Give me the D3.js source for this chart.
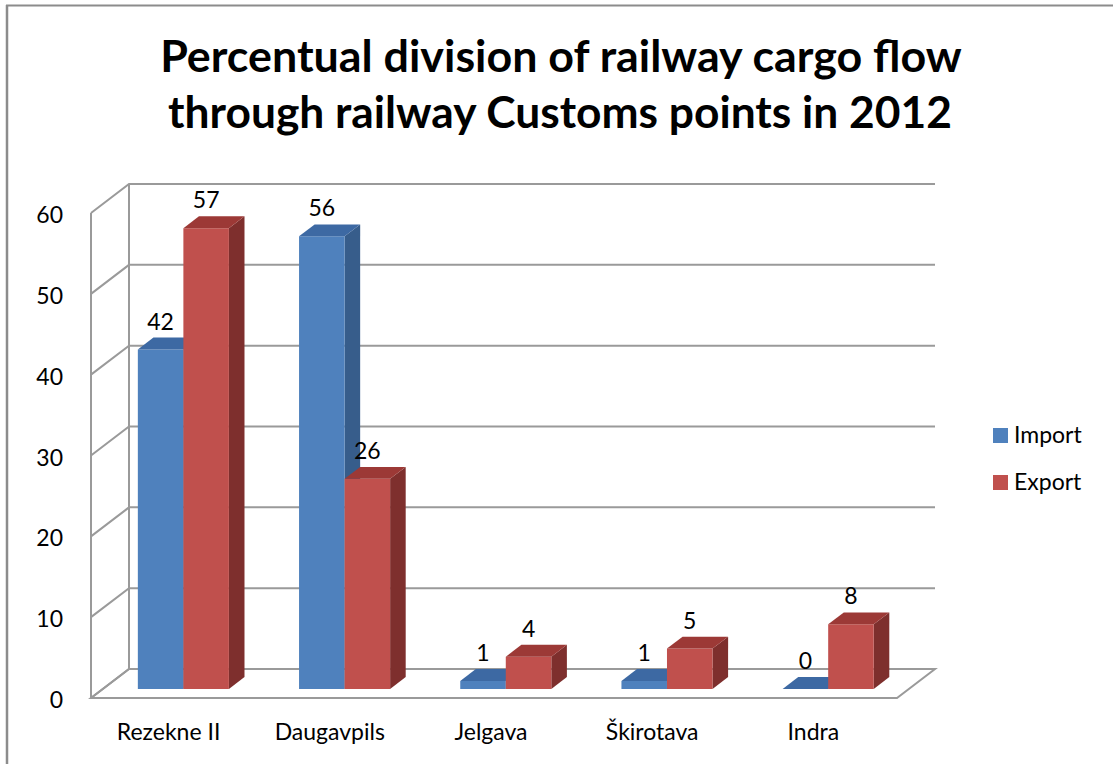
<!DOCTYPE html>
<html>
<head>
<meta charset="utf-8">
<script src="https://cdn.jsdelivr.net/npm/d3@7"></script>
<style>
  html, body { margin: 0; padding: 0; background: #fff; }
  svg { display: block; }
</style>
</head>
<body>
<svg id="chart" width="1113" height="764"></svg>
<script>
// Data
const categories = ["Rezekne II", "Daugavpils", "Jelgava", "Škirotava", "Indra"];
const seriesNames = ["Import", "Export"];
const importValues = [42, 56, 1, 1, 0];
const exportValues = [57, 26, 4, 5, 8];
const yTicks = [0, 10, 20, 30, 40, 50, 60];
const titleLines = ["Percentual division of railway cargo flow", "through railway Customs points in 2012"];

const seriesValues = { Import: importValues, Export: exportValues };
const colors = {
  Import: { front: "#4F81BD", top: "#3D69A3", side: "#375D8B" },
  Export: { front: "#C0504D", top: "#9C3936", side: "#7E2F2D" }
};

const FONT = "Lato, 'Open Sans', 'DejaVu Sans', sans-serif";
const LABEL_SIZE = "23px";
const svg = d3.select("#chart");

// Outer frame (top and left edges)
svg.append("line").attr("x1", 6).attr("y1", 5.5).attr("x2", 1113).attr("y2", 5.5)
  .attr("stroke", "#8c8c8c").attr("stroke-width", 2);
svg.append("line").attr("x1", 7).attr("y1", 5).attr("x2", 7).attr("y2", 764)
  .attr("stroke", "#8c8c8c").attr("stroke-width", 2.5);

// Title, each line sized to its width
const titleTargets = [{ cx: 561, base: 72, w: 802 }, { cx: 560, base: 128, w: 784 }];
titleLines.forEach((line, i) => {
  const t = svg.append("text")
    .attr("x", titleTargets[i].cx).attr("y", titleTargets[i].base)
    .attr("text-anchor", "middle")
    .style("font-family", FONT).style("font-weight", "bold").style("font-size", "40px")
    .attr("fill", "#000").text(line);
  const len = t.node().getComputedTextLength();
  t.style("font-size", (40 * titleTargets[i].w / len) + "px");
});

// Scales on the front plane of the 3D box
const x = d3.scaleBand().domain(categories).range([91, 897]);
const y = d3.scaleLinear().domain([0, 60]).range([698, 213]);
const xs = d3.scaleBand().domain(seriesNames).range([0, x.bandwidth()])
  .paddingInner(0).paddingOuter(0.77);

// Depth vector (full depth of the box)
const DX = 38, DY = -29;
const P = (px, v, d) => [px + d * DX, y(v) + d * DY];
const poly = pts => "M" + pts.map(p => p.join(",")).join("L") + "Z";

const grid = "#9a9a9a";
const g = svg.append("g");

// Floor
g.append("path")
  .attr("d", poly([P(91, 0, 0), P(897, 0, 0), P(897, 0, 1), P(91, 0, 1)]))
  .attr("fill", "#fff").attr("stroke", grid).attr("stroke-width", 2);

// Back wall gridlines and left side wall
yTicks.forEach(v => {
  const a = P(91, v, 0), b = P(91, v, 1), c = P(935 - DX, v, 1);
  g.append("path").attr("d", `M${a}L${b}L${c}`)
    .attr("fill", "none").attr("stroke", grid).attr("stroke-width", 2);
});
g.append("line")
  .attr("x1", P(91, 0, 1)[0]).attr("y1", P(91, 0, 1)[1])
  .attr("x2", P(91, 60, 1)[0]).attr("y2", P(91, 60, 1)[1])
  .attr("stroke", grid).attr("stroke-width", 2);
g.append("line")
  .attr("x1", 91).attr("y1", y(0)).attr("x2", 91).attr("y2", y(60))
  .attr("stroke", grid).attr("stroke-width", 2);

// Y tick labels
svg.append("g").selectAll("text").data(yTicks).join("text")
  .attr("x", 63).attr("y", v => y(v) + 10)
  .attr("text-anchor", "end")
  .style("font-family", FONT).style("font-size", LABEL_SIZE).attr("fill", "#000")
  .text(v => v);

// Bars (depth from d0 to d1 inside the box)
const d0 = 0.31, d1 = 0.72;
const bars = svg.append("g");
const labels = svg.append("g");
categories.forEach((cat, ci) => {
  seriesNames.forEach(s => {
    const v = seriesValues[s][ci];
    const xl = x(cat) + xs(s), xr = xl + xs.bandwidth();
    const c = colors[s];
    // side face
    bars.append("path")
      .attr("d", poly([P(xr, 0, d0), P(xr, v, d0), P(xr, v, d1), P(xr, 0, d1)]))
      .attr("fill", c.side);
    // front face
    bars.append("path")
      .attr("d", poly([P(xl, 0, d0), P(xr, 0, d0), P(xr, v, d0), P(xl, v, d0)]))
      .attr("fill", c.front);
    // top face
    bars.append("path")
      .attr("d", poly([P(xl, v, d0), P(xr, v, d0), P(xr, v, d1), P(xl, v, d1)]))
      .attr("fill", c.top);
    // value label
    const top = P((xl + xr) / 2, v, d0);
    labels.append("text")
      .attr("x", top[0]).attr("y", top[1] - 20)
      .attr("text-anchor", "middle")
      .style("font-family", FONT).style("font-size", LABEL_SIZE).attr("fill", "#000")
      .text(v);
  });
});

// Category labels
svg.append("g").selectAll("text").data(categories).join("text")
  .attr("x", d => x(d) + x.bandwidth() / 2 - 3).attr("y", 740)
  .attr("text-anchor", "middle")
  .style("font-family", FONT).style("font-size", LABEL_SIZE).attr("fill", "#000")
  .text(d => d);

// Legend
const legend = svg.append("g");
seriesNames.forEach((s, i) => {
  const ly = 428 + i * 47;
  legend.append("rect").attr("x", 993).attr("y", ly).attr("width", 15).attr("height", 15)
    .attr("fill", colors[s].front);
  legend.append("text").attr("x", 1014).attr("y", ly + 15)
    .style("font-family", FONT).style("font-size", LABEL_SIZE).attr("fill", "#000")
    .text(s);
});
</script>
</body>
</html>
